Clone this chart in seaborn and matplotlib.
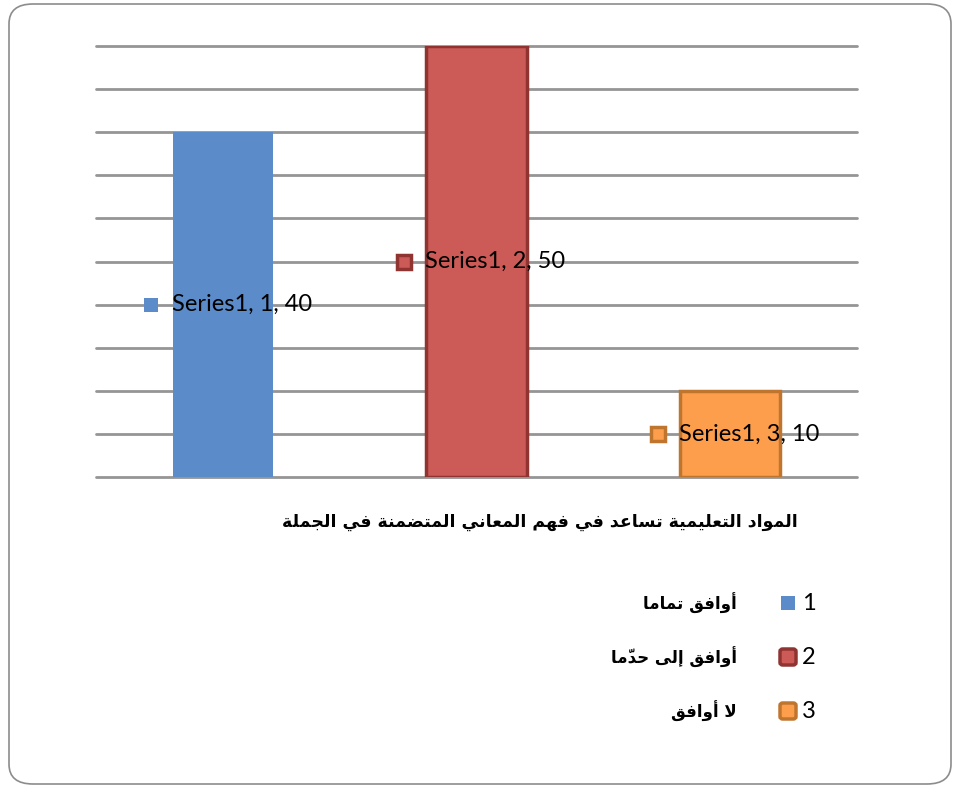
import numpy as np
import pandas as pd
import matplotlib
matplotlib.use("Agg")
import matplotlib.pyplot as plt
import seaborn as sns
from matplotlib.patches import FancyBboxPatch, Rectangle

# ---------------- data ----------------
categories = ["1", "2", "3"]
values = [40, 50, 10]
series_name = "Series1"
legend_labels = ["أوافق تماما", "أوافق إلى حدّما", "لا أوافق"]
title_text = "المواد التعليمية تساعد في فهم المعاني المتضمنة في الجملة"

fills = ["#5B8BC8", "#CC5A56", "#FC9E4C"]
edges = ["#5B8BC8", "#8F3431", "#C0752F"]
edge_widths = [0.0, 2.5, 2.5]

# ---------------- minimal Arabic shaping ----------------
FORMS = {
    "\u0627": (0xFE8D, 0xFE8E, None, None),
    "\u0623": (0xFE83, 0xFE84, None, None),
    "\u0625": (0xFE87, 0xFE88, None, None),
    "\u0628": (0xFE8F, 0xFE90, 0xFE91, 0xFE92),
    "\u0629": (0xFE93, 0xFE94, None, None),
    "\u062A": (0xFE95, 0xFE96, 0xFE97, 0xFE98),
    "\u062C": (0xFE9D, 0xFE9E, 0xFE9F, 0xFEA0),
    "\u062D": (0xFEA1, 0xFEA2, 0xFEA3, 0xFEA4),
    "\u062F": (0xFEA9, 0xFEAA, None, None),
    "\u0633": (0xFEB1, 0xFEB2, 0xFEB3, 0xFEB4),
    "\u0636": (0xFEBD, 0xFEBE, 0xFEBF, 0xFEC0),
    "\u0639": (0xFEC9, 0xFECA, 0xFECB, 0xFECC),
    "\u0641": (0xFED1, 0xFED2, 0xFED3, 0xFED4),
    "\u0642": (0xFED5, 0xFED6, 0xFED7, 0xFED8),
    "\u0644": (0xFEDD, 0xFEDE, 0xFEDF, 0xFEE0),
    "\u0645": (0xFEE1, 0xFEE2, 0xFEE3, 0xFEE4),
    "\u0646": (0xFEE5, 0xFEE6, 0xFEE7, 0xFEE8),
    "\u0647": (0xFEE9, 0xFEEA, 0xFEEB, 0xFEEC),
    "\u0648": (0xFEED, 0xFEEE, None, None),
    "\u0649": (0xFEEF, 0xFEF0, None, None),
    "\u064A": (0xFEF1, 0xFEF2, 0xFEF3, 0xFEF4),
}
LAMALEF = {"\u0627": (0xFEFB, 0xFEFC), "\u0623": (0xFEF7, 0xFEF8),
           "\u0625": (0xFEF9, 0xFEFA)}
MARKS = {"\u0651", "\u064E", "\u064F", "\u0650", "\u0652"}


def shape(text):
    chars = list(text)
    n = len(chars)
    clusters = []
    prev_joins = False
    i = 0
    while i < n:
        c = chars[i]
        if c in MARKS:
            if clusters:
                clusters[-1] = c + clusters[-1]
            i += 1
            continue
        if c not in FORMS:
            clusters.append(c)
            prev_joins = False
            i += 1
            continue
        j = i + 1
        marks = ""
        while j < n and chars[j] in MARKS:
            marks += chars[j]
            j += 1
        nxt = chars[j] if j < n else None
        if c == "\u0644" and nxt in LAMALEF:
            iso, fin = LAMALEF[nxt]
            clusters.append(marks + chr(fin if prev_joins else iso))
            prev_joins = False
            i = j + 1
            continue
        iso, fin, ini, med = FORMS[c]
        join_next = ini is not None and nxt in FORMS
        if prev_joins and join_next:
            g = med
        elif prev_joins:
            g = fin
        elif join_next:
            g = ini
        else:
            g = iso
        clusters.append(marks + chr(g))
        prev_joins = ini is not None
        i = j
    return "".join(reversed(clusters))


# ---------------- figure ----------------
sns.set_theme(style="white")
plt.rcParams["font.family"] = ["Lato", "DejaVu Sans"]

W, H = 960, 789
fig = plt.figure(figsize=(W / 100, H / 100), dpi=100)


def fx(px):
    return px / W


def fy(py):
    return 1 - py / H


# outer rounded border
fig.patches.append(FancyBboxPatch((fx(9), fy(784)), fx(951) - fx(9), fy(4) - fy(784),
                                  boxstyle="round,pad=0,rounding_size=0.025",
                                  transform=fig.transFigure, facecolor="white",
                                  edgecolor="#8C8C8C", linewidth=1.2, zorder=-5))

ax = fig.add_axes([fx(96), fy(477), fx(857) - fx(96), fy(46) - fy(477)])
ax.set_facecolor("none")

df = pd.DataFrame({"cat": categories, "val": values})
sns.barplot(data=df, x="cat", y="val", hue="cat", palette=fills, width=0.395,
            saturation=1, legend=False, ax=ax, zorder=3)
for patch, ec, lw in zip(ax.patches, edges, edge_widths):
    patch.set_edgecolor(ec)
    patch.set_linewidth(lw)

ax.set_xlim(-0.5, 2.5)
ax.set_ylim(0, 50)
ax.set_yticks(np.arange(0, 51, 5))
ax.set_yticklabels([])
ax.set_xticks([])
ax.set_xlabel("")
ax.set_ylabel("")
ax.tick_params(length=0)
for s in ax.spines.values():
    s.set_visible(False)
ax.yaxis.grid(True, color="#959595", linewidth=2)
ax.set_axisbelow(True)
for gl in ax.get_ygridlines():
    gl.set_clip_on(False)

# data labels
texts = []
for i, (cat, v) in enumerate(zip(categories, values)):
    t = ax.annotate(f"{series_name}, {cat}, {v}", xy=(i, v / 2), xytext=(19, 0),
                    textcoords="offset pixels", ha="center", va="center",
                    fontsize=17, color="black", zorder=5)
    texts.append(t)
fig.canvas.draw()
r = fig.canvas.get_renderer()
for i, (t, v) in enumerate(zip(texts, values)):
    bb = t.get_window_extent(r)
    disp = ax.transData.transform((i, v / 2))
    mx = ax.transData.inverted().transform((bb.x0 - 21, disp[1]))[0]
    if edge_widths[i] == 0:
        ax.plot(mx, v / 2, marker="s", ms=10, color=fills[i], mew=0, zorder=6,
                clip_on=False)
    else:
        ax.plot(mx, v / 2, marker="s", ms=10.5, markerfacecolor=fills[i],
                markeredgecolor=edges[i], mew=2.5, zorder=6, clip_on=False)

# title below the chart
fig.text(fx(540), fy(522), shape(title_text), ha="center", va="center",
         fontsize=12.5, fontweight="bold", family=["DejaVu Sans"], color="black")

# legend
leg_y = [603, 657, 711]
for i, (cat, lab) in enumerate(zip(categories, legend_labels)):
    yc = leg_y[i]
    if edge_widths[i] == 0:
        s = 14
        fig.patches.append(Rectangle((fx(788 - s / 2), fy(yc + s / 2)), s / W, s / H,
                                     transform=fig.transFigure, facecolor=fills[i],
                                     edgecolor="none"))
    else:
        s = 16
        fig.patches.append(FancyBboxPatch((fx(788 - s / 2), fy(yc + s / 2)), s / W, s / H,
                                          boxstyle="round,pad=0,rounding_size=0.003",
                                          transform=fig.transFigure, facecolor=fills[i],
                                          edgecolor=edges[i], linewidth=2.5))
    fig.text(fx(802), fy(yc), cat, ha="left", va="center", fontsize=17, color="black")
    fig.text(fx(737), fy(yc), shape(lab), ha="right", va="center", fontsize=12,
             fontweight="bold", family=["DejaVu Sans"], color="black")

fig.savefig("out.png", dpi=100)
